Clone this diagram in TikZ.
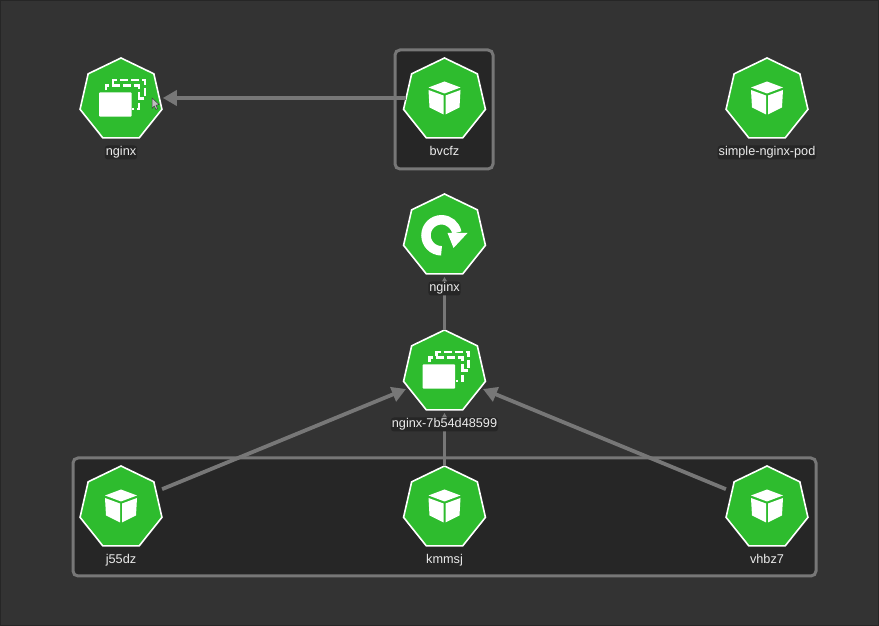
\documentclass[tikz,border=0pt]{standalone}
\usepackage{fontspec}
\setmainfont{Liberation Sans}
\usetikzlibrary{shapes.geometric,arrows.meta}
\definecolor{bgGray}{HTML}{333333}
\definecolor{groupGray}{HTML}{262626}
\definecolor{edgeGray}{HTML}{777777}
\definecolor{kubeGreen}{HTML}{2EBC2E}

% icons are drawn in pixels, y pointing down, around the centre of a node
\newcommand{\cubeicon}[1]{
  \begin{scope}[shift={(#1.center)}, yscale=-1]
    \fill[white] (0,-18.5) -- (16,-12.5) -- (0,-6.5) -- (-16,-12.5) -- cycle;
    \fill[white] (-16,-10) -- (-1,-4.5) -- (-1,14.5) -- (-15,7.5) -- cycle;
    \fill[white] (16,-10) -- (1,-4.5) -- (1,14.5) -- (15,7.5) -- cycle;
  \end{scope}
}
\newcommand{\stackicon}[1]{
  \begin{scope}[shift={(#1.center)}, yscale=-1]
    \draw[white, line width=2.5pt, dash pattern=on 8pt off 3pt]
      (-8,-16) -- (-8,-20) -- (24,-20) -- (24,-1.7) -- (19,-1.7);
    \draw[white, line width=2.5pt, dash pattern=on 8pt off 3pt]
      (-15,-9.5) -- (-15,-14.3) -- (18,-14.3) -- (18,9) -- (11,9);
    \fill[white, rounded corners=1pt] (-22,-7.7) rectangle (10.7,16.7);
  \end{scope}
}
\newcommand{\rollicon}[1]{
  \begin{scope}[shift={(#1.center)}, yscale=-1]
    \draw[white, line width=9.5pt] (-3,14.8) arc[start angle=90, end angle=350, radius=15.5pt];
    \fill[white] (23,-3) -- (3,-3) -- (9,12) -- cycle;
  \end{scope}
}

\begin{document}
\begin{tikzpicture}[
    x=1pt, y=1pt,
    hept/.style={
        regular polygon,
        regular polygon sides=7,
        minimum size=84pt,
        inner sep=0,
        outer sep=0,
        draw=white,
        line width=1.6pt,
        fill=kubeGreen,
      },
    lab/.style={
        font=\fontsize{12.7}{15}\selectfont,
        text=white!92!black,
        fill=black!85,
        rounded corners=3pt,
        inner sep=1pt,
        text height=9pt,
        text depth=3pt,
      },
    group/.style={
        rectangle,
        rounded corners=5pt,
        draw=edgeGray,
        line width=3pt,
        fill=groupGray,
      },
    arr/.style={
        line width=3.8pt,
        draw=edgeGray,
        shorten >=3pt,
        -{Triangle[length=14pt, width=15pt]},
      },
  ]
  \useasboundingbox (0,0) rectangle (879,626);
  \fill[bgGray] (0,0) rectangle (879,626);
  \draw[black!85, line width=1.5pt] (0,0) rectangle (879,626);

  \node[group, minimum width=98pt, minimum height=119pt] (topgroup) at (444,516.5) {};
  \node[group, minimum width=743pt, minimum height=118pt] (podgroup) at (444.5,109) {};

  \node[hept] (deploy) at (121,526) {};
  \node[hept] (bvcfz) at (444.5,526) {};
  \node[hept] (simple) at (767,526) {};
  \node[hept] (roll) at (444.5,390) {};
  \node[hept] (rs) at (444.5,254) {};
  \node[hept] (j55dz) at (121,118) {};
  \node[hept] (kmmsj) at (444.5,118) {};
  \node[hept] (vhbz7) at (767,118) {};

  \draw[arr] ([yshift=2pt]bvcfz.180) -- ([yshift=2pt]deploy.0);
  \draw[arr] (rs.90) -- (roll.270);
  \draw[arr] (kmmsj.90) -- (rs.270);
  \draw[arr, shorten <=6.5pt] (j55dz.25) -- (rs.204);
  \draw[arr, shorten <=6.5pt] (vhbz7.155) -- (rs.336);

  \stackicon{deploy}
  \cubeicon{bvcfz}
  \cubeicon{simple}
  \rollicon{roll}
  \stackicon{rs}
  \cubeicon{j55dz}
  \cubeicon{kmmsj}
  \cubeicon{vhbz7}

  % mouse pointer left in the screenshot
  \fill[white!75!black, draw=black!75, line width=.5pt]
    (152,528) -- (152,517.5) -- (154.3,520) -- (156,516.5) -- (157.5,517.3) -- (156,520.8) -- (159,521.5) -- cycle;

  \node[lab, anchor=base] (deploylab) at (121,470.5) {nginx};
  \node[lab, anchor=base] (bvcfzlab) at (444.5,470.5) {bvcfz};
  \node[lab, anchor=base] (simplelab) at (767,470.5) {simple-nginx-pod};
  \node[lab, anchor=base] (rolllab) at (444.5,334.5) {nginx};
  \node[lab, anchor=base] (rslab) at (444.5,198.5) {nginx-7b54d48599};
  \node[lab, anchor=base] (j55dzlab) at (121,62.5) {j55dz};
  \node[lab, anchor=base] (kmmsjlab) at (444.5,62.5) {kmmsj};
  \node[lab, anchor=base] (vhbz7lab) at (767,62.5) {vhbz7};
\end{tikzpicture}
\end{document}
